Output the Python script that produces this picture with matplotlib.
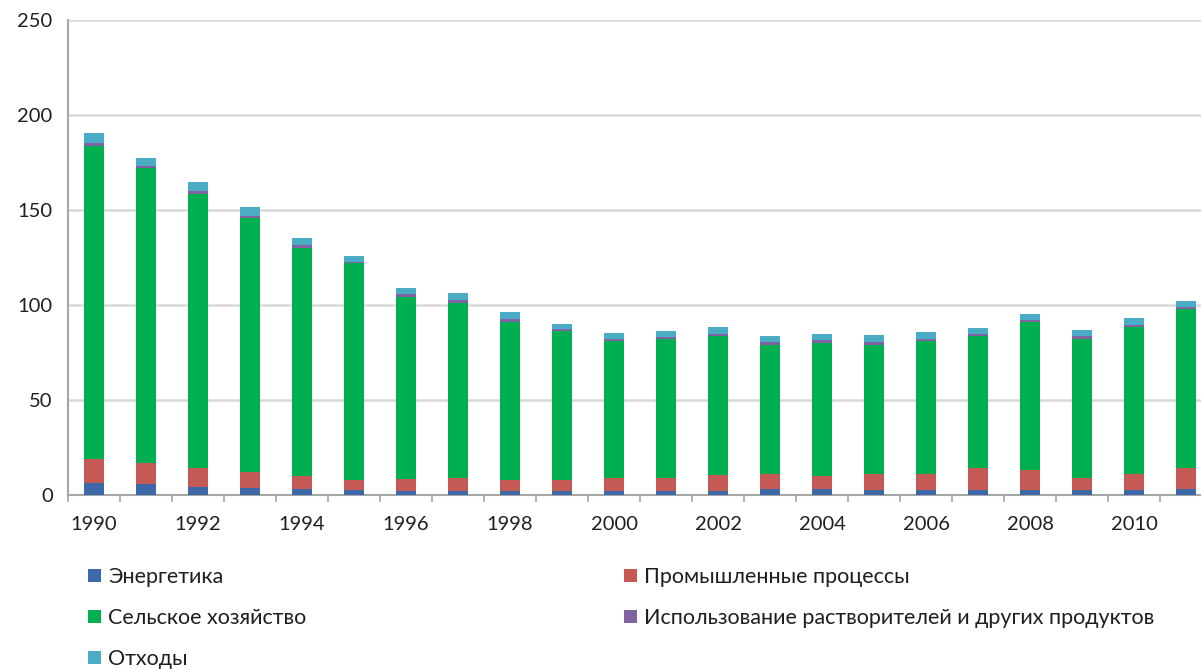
import matplotlib
matplotlib.use("Agg")
import matplotlib.pyplot as plt
from matplotlib.patches import Patch
import numpy as np

years = list(range(1990, 2012))
energy = [6.2, 5.9, 4.1, 3.8, 3.1, 2.7, 2.0, 2.0, 2.0, 2.0, 2.0, 2.0, 2.0, 2.9, 2.9,
          2.7, 2.7, 2.7, 2.7, 2.7, 2.7, 3.3]
industry = [12.9, 11.1, 10.2, 8.2, 6.8, 5.1, 6.2, 7.0, 5.8, 5.8, 7.0, 7.0, 8.3, 8.1, 7.0,
            8.3, 8.6, 11.3, 10.2, 6.3, 8.3, 11.0]
agriculture = [164.8, 155.0, 144.3, 133.6, 119.9, 114.1, 96.1, 92.1, 83.5, 78.4, 72.1,
               73.1, 73.6, 68.0, 70.3, 68.2, 69.8, 69.7, 78.0, 73.1, 77.3, 83.6]
solvents = [1.2, 1.0, 1.2, 1.2, 1.6, 0.8, 1.4, 1.4, 1.1, 1.4, 1.0, 1.1, 1.1, 1.4, 1.2,
            1.2, 1.0, 0.9, 1.1, 1.6, 1.2, 1.1]
waste = [5.3, 4.2, 4.8, 4.9, 4.0, 2.9, 3.5, 3.9, 3.8, 2.6, 3.2, 3.1, 3.3, 3.5, 3.6,
         3.8, 3.9, 3.5, 3.1, 3.4, 3.5, 3.2]

series = [
    ("Энергетика", energy, "#3E69A8"),
    ("Промышленные процессы", industry, "#C55A55"),
    ("Сельское хозяйство", agriculture, "#00B050"),
    ("Использование растворителей и других продуктов", solvents, "#8064A2"),
    ("Отходы", waste, "#4BACC6"),
]

plt.rcParams['font.family'] = ['Lato', 'DejaVu Sans']

W, H = 1201, 670
fig = plt.figure(figsize=(W / 100, H / 100), dpi=100)
ax = fig.add_axes([68 / W, (H - 495) / H, 1144 / W, 475 / H])

x = np.arange(len(years))
bottom = np.zeros(len(years))
for name, vals, col in series:
    v = np.array(vals)
    ax.bar(x, v, width=0.40, bottom=bottom, color=col, edgecolor='none', zorder=3)
    bottom += v

ax.set_ylim(0, 250)
ax.set_xlim(-0.5, len(years) - 0.5)
ax.set_yticks([0, 50, 100, 150, 200, 250])
ax.yaxis.grid(True, color='#D9D9D9', linewidth=1.8, zorder=0)
ax.set_axisbelow(True)

# x ticks: marks at category boundaries, labels every two years
ax.set_xticks(np.arange(-0.5, len(years), 1.0))
ax.set_xticklabels([])
ax.set_xticks(x[::2], minor=True)
ax.set_xticklabels([str(y) for y in years[::2]], minor=True)
ax.tick_params(axis='x', which='major', length=5, color='#A6A6A6', width=1.2)
ax.tick_params(axis='x', which='minor', length=0, pad=15, labelsize=14.5, labelcolor='#1F1F1F')
ax.tick_params(axis='y', length=0, pad=11, labelsize=14.5, labelcolor='#1F1F1F')

for s in ['top', 'right']:
    ax.spines[s].set_visible(False)
for s in ['left', 'bottom']:
    ax.spines[s].set_color('#A6A6A6')
    ax.spines[s].set_linewidth(1.5)

h = {name: Patch(facecolor=col) for name, _, col in series}
names = [s[0] for s in series]
common = dict(loc='upper left', frameon=False, fontsize=15.5, handlelength=0.6,
              handleheight=0.6, handletextpad=0.35, labelspacing=0.98,
              borderpad=0, borderaxespad=0)
leg1 = fig.legend([h[names[0]], h[names[2]], h[names[4]]],
                  [names[0], names[2], names[4]],
                  bbox_to_anchor=(88 / W, 1 - 567 / H), **common)
leg2 = fig.legend([h[names[1]], h[names[3]]],
                  [names[1], names[3]],
                  bbox_to_anchor=(624 / W, 1 - 567 / H), **common)
for leg in (leg1, leg2):
    for t in leg.get_texts():
        t.set_color('#1F1F1F')

fig.savefig("out.png", dpi=100)
